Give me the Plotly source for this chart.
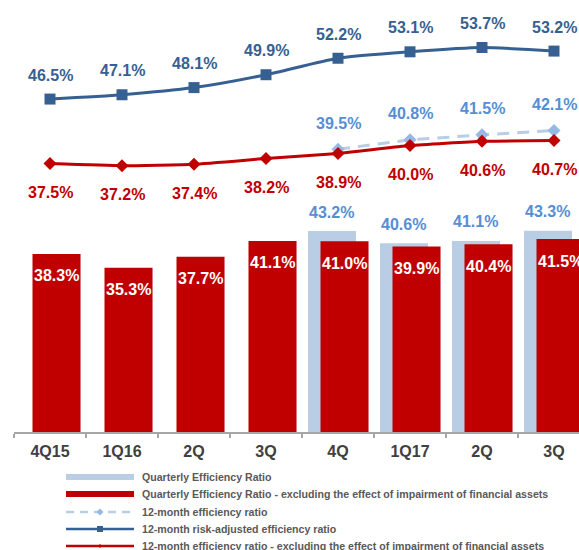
import plotly.graph_objects as go

# ---- data ----
quarters = ["4Q15", "1Q16", "2Q", "3Q", "4Q", "1Q17", "2Q", "3Q"]
quarterly_ratio = [None, None, None, None, 43.2, 40.6, 41.1, 43.3]
quarterly_excl = [38.3, 35.3, 37.7, 41.1, 41.0, 39.9, 40.4, 41.5]
twelve_month = [None, None, None, None, 39.5, 40.8, 41.5, 42.1]
risk_adjusted = [46.5, 47.1, 48.1, 49.9, 52.2, 53.1, 53.7, 53.2]
twelve_month_excl = [37.5, 37.2, 37.4, 38.2, 38.9, 40.0, 40.6, 40.7]

legend_labels = [
    "Quarterly Efficiency Ratio",
    "Quarterly Efficiency Ratio - excluding the effect of impairment of financial assets",
    "12-month efficiency ratio",
    "12-month risk-adjusted efficiency ratio",
    "12-month efficiency ratio - excluding the effect of impairment of financial assets",
]

# ---- styling ----
RED = "#C00000"
LIGHT_BLUE = "#B9CDE5"
MID_BLUE = "#558ED5"
DASH_MARK = "#95B9E6"
DARK_BLUE = "#376092"
GRAY = "#404040"
FONT = "Liberation Sans"

W, H = 579, 550
PL, PR, PT, PB = 14, 579, 10, 432
x = list(range(len(quarters)))


def pxp(v):
    return (v - PL) / (PR - PL)


def pyp(v):
    return (PB - v) / (PB - PT)


fig = go.Figure()

fig.add_trace(go.Bar(x=x, y=quarterly_ratio, width=0.667, offset=-0.417,
                     marker=dict(color=LIGHT_BLUE, line=dict(width=0)),
                     showlegend=False, hoverinfo="skip"))
fig.add_trace(go.Bar(x=x, y=quarterly_excl, width=0.667, offset=-0.243,
                     marker=dict(color=RED, line=dict(width=0)),
                     showlegend=False, hoverinfo="skip"))

fig.add_trace(go.Scatter(x=x, y=twelve_month, yaxis="y2", mode="lines+markers",
                         line=dict(color=LIGHT_BLUE, width=3, dash="12px,8px"),
                         marker=dict(symbol="diamond", size=10, color=DASH_MARK),
                         showlegend=False, hoverinfo="skip"))
fig.add_trace(go.Scatter(x=x, y=twelve_month_excl, yaxis="y2", mode="lines+markers",
                         line=dict(color=RED, width=3, shape="spline", smoothing=0.4),
                         marker=dict(symbol="diamond", size=10, color=RED),
                         showlegend=False, hoverinfo="skip"))
fig.add_trace(go.Scatter(x=x, y=risk_adjusted, yaxis="y2", mode="lines+markers",
                         line=dict(color=DARK_BLUE, width=3, shape="spline", smoothing=0.6),
                         marker=dict(symbol="square", size=11, color=DARK_BLUE),
                         showlegend=False, hoverinfo="skip"))

ann = []
lbl_font = dict(family=FONT, size=16, weight="bold")

for i, v in enumerate(quarterly_ratio):
    if v is not None:
        ann.append(dict(x=i - 0.085, y=v, xref="x", yref="y", text=f"{v:.1f}%",
                        showarrow=False, yshift=19, font=dict(lbl_font, color=MID_BLUE)))
for i, v in enumerate(quarterly_excl):
    ann.append(dict(x=i + 0.09, y=v, xref="x", yref="y", text=f"{v:.1f}%",
                    showarrow=False, yshift=-22, font=dict(lbl_font, color="white")))
for i, v in enumerate(twelve_month):
    if v is not None:
        ann.append(dict(x=i, y=v, xref="x", yref="y2", text=f"{v:.1f}%",
                        showarrow=False, yshift=26, font=dict(lbl_font, color=MID_BLUE)))
for i, v in enumerate(risk_adjusted):
    ann.append(dict(x=i, y=v, xref="x", yref="y2", text=f"{v:.1f}%",
                    showarrow=False, yshift=24, font=dict(lbl_font, color=DARK_BLUE)))
for i, v in enumerate(twelve_month_excl):
    ann.append(dict(x=i, y=v, xref="x", yref="y2", text=f"{v:.1f}%",
                    showarrow=False, yshift=-29, font=dict(lbl_font, color=RED)))

# ---- manual legend ----
rows = [477, 494, 512, 529, 546]
sx0, sx1, tx = 66, 134, 140
shapes = []
shapes.append(dict(type="line", xref="paper", yref="paper", x0=pxp(sx0), x1=pxp(sx1),
                   y0=pyp(rows[0]), y1=pyp(rows[0]), line=dict(color=LIGHT_BLUE, width=6)))
shapes.append(dict(type="line", xref="paper", yref="paper", x0=pxp(sx0), x1=pxp(sx1),
                   y0=pyp(rows[1]), y1=pyp(rows[1]), line=dict(color=RED, width=6)))
shapes.append(dict(type="line", xref="paper", yref="paper", x0=pxp(sx0), x1=pxp(sx1),
                   y0=pyp(rows[2]), y1=pyp(rows[2]),
                   line=dict(color=LIGHT_BLUE, width=2.5, dash="8px,6px")))
mx = (sx0 + sx1) / 2
d = 3.5
shapes.append(dict(type="path", xref="paper", yref="paper",
                   path=f"M {pxp(mx-d)} {pyp(rows[2])} L {pxp(mx)} {pyp(rows[2]-d)} "
                        f"L {pxp(mx+d)} {pyp(rows[2])} L {pxp(mx)} {pyp(rows[2]+d)} Z",
                   fillcolor=DASH_MARK, line=dict(width=0)))
shapes.append(dict(type="line", xref="paper", yref="paper", x0=pxp(sx0), x1=pxp(sx1),
                   y0=pyp(rows[3]), y1=pyp(rows[3]), line=dict(color=DARK_BLUE, width=2.5)))
shapes.append(dict(type="rect", xref="paper", yref="paper", x0=pxp(mx-3), x1=pxp(mx+3),
                   y0=pyp(rows[3]-3), y1=pyp(rows[3]+3), fillcolor=DARK_BLUE, line=dict(width=0)))
shapes.append(dict(type="line", xref="paper", yref="paper", x0=pxp(sx0), x1=pxp(sx1),
                   y0=pyp(rows[4]), y1=pyp(rows[4]), line=dict(color=RED, width=2.5)))
shapes.append(dict(type="path", xref="paper", yref="paper",
                   path=f"M {pxp(mx-2)} {pyp(rows[4])} L {pxp(mx)} {pyp(rows[4]-2)} "
                        f"L {pxp(mx+2)} {pyp(rows[4])} L {pxp(mx)} {pyp(rows[4]+2)} Z",
                   fillcolor=RED, line=dict(width=0)))

for r, t in zip(rows, legend_labels):
    ann.append(dict(x=pxp(tx), y=pyp(r), xref="paper", yref="paper", text=t,
                    xanchor="left", yanchor="middle", showarrow=False,
                    font=dict(family=FONT, size=10.6, weight="bold", color="#595959")))

fig.update_layout(
    width=W, height=H,
    margin=dict(l=PL, r=W - PR, t=PT, b=H - PB),
    paper_bgcolor="white", plot_bgcolor="white",
    barmode="overlay",
    showlegend=False,
    xaxis=dict(range=[-0.5, -0.5 + (PR - PL) / 72.0], tickvals=x, ticktext=quarters,
               ticks="", showgrid=False, zeroline=False, ticklabelstandoff=4,
               showline=True, linecolor="#A6A6A6", linewidth=1.5,
               tickfont=dict(family=FONT, size=16, weight="bold", color=GRAY),
               minor=dict(tickmode="array", tickvals=[i - 0.5 for i in range(len(quarters) + 1)],
                          ticks="outside", ticklen=4, tickcolor="#A6A6A6", tickwidth=1.5,
                          showgrid=False)),
    yaxis=dict(range=[0, (PB - PT) / 4.65], visible=False, showgrid=False),
    yaxis2=dict(range=[0, (PB - PT) / 7.16], overlaying="y", visible=False, showgrid=False),
    annotations=ann,
    shapes=shapes,
)

fig.write_html(
    "out.html",
    config={"displayModeBar": False},
    post_script="document.body.style.margin='0';document.body.style.overflow='hidden';",
)
